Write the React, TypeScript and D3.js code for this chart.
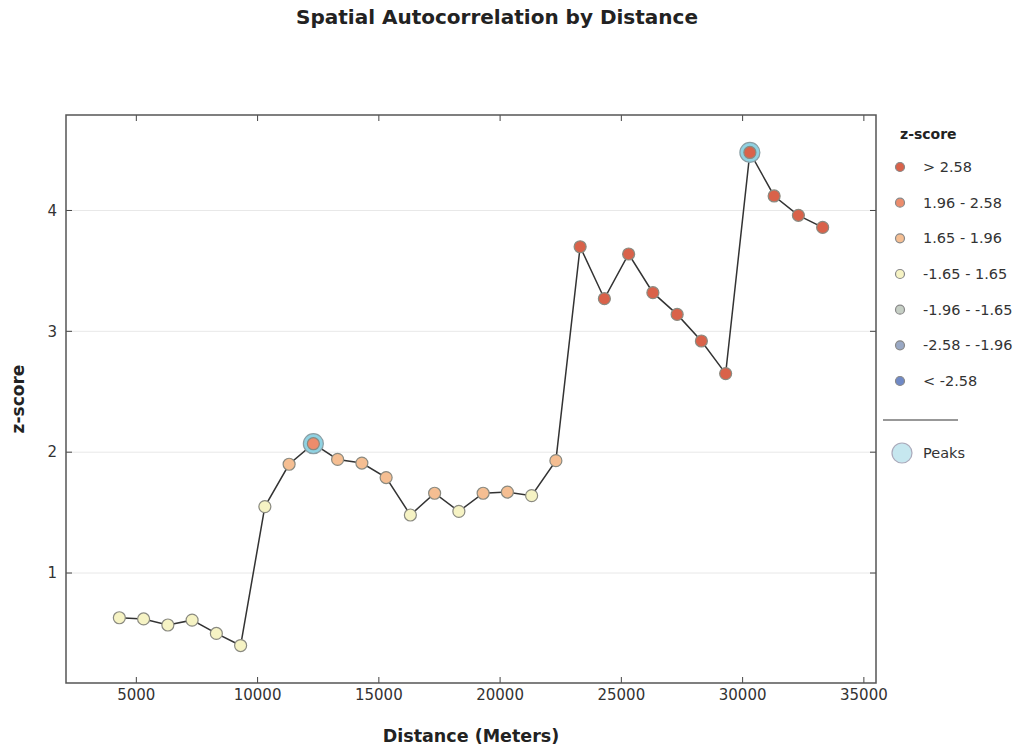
import React from "react";
import * as d3 from "d3";

// distance bands (meters) and their z-scores
const distances = [
  4300, 5300, 6300, 7300, 8300, 9300, 10300, 11300, 12300, 13300,
  14300, 15300, 16300, 17300, 18300, 19300, 20300, 21300, 22300, 23300,
  24300, 25300, 26300, 27300, 28300, 29300, 30300, 31300, 32300, 33300,
];
const zScores = [
  0.63, 0.62, 0.57, 0.61, 0.50, 0.40, 1.55, 1.90, 2.07, 1.94,
  1.91, 1.79, 1.48, 1.66, 1.51, 1.66, 1.67, 1.64, 1.93, 3.70,
  3.27, 3.64, 3.32, 3.14, 2.92, 2.65, 4.48, 4.12, 3.96, 3.86,
];
const peakDistances = [12300, 30300];

const xTicks = [5000, 10000, 15000, 20000, 25000, 30000, 35000];
const yTicks = [1, 2, 3, 4];

const breaks = [-2.58, -1.96, -1.65, 1.65, 1.96, 2.58];
const classColors = ["#6f89c6", "#99a8c4", "#c6cfc5", "#f6f3c4", "#f5be92", "#ec8c6c", "#d9624a"];
const legendLabels = ["> 2.58", "1.96 - 2.58", "1.65 - 1.96", "-1.65 - 1.65", "-1.96 - -1.65", "-2.58 - -1.96", "< -2.58"];

const W = 1020;
const H = 746;
const m = { top: 115, right: 144, bottom: 63, left: 66 };

export default function App() {
  const x = d3.scaleLinear().domain([2100, 35500]).range([m.left, W - m.right]);
  const y = d3.scaleLinear().domain([0.09, 4.79]).range([H - m.bottom, m.top]);
  const color = d3.scaleThreshold<number, string>().domain(breaks).range(classColors);

  const pts = distances.map((d, i) => ({ d, z: zScores[i] }));
  const line = d3.line<{ d: number; z: number }>().x(p => x(p.d)).y(p => y(p.z));

  const x0 = m.left, x1 = W - m.right, y0 = m.top, y1 = H - m.bottom;
  const font = "DejaVu Sans, sans-serif";
  const legendX = 900;
  const legendY = d3.scalePoint<number>().domain(d3.range(7)).range([167, 381]);

  return (
    <svg width={W} height={H} style={{ position: "absolute", left: 0, top: 0 }} fontFamily={font}>
      <rect width={W} height={H} fill="#fff" />
      <text x={497} y={24} textAnchor="middle" fontSize={20} fontWeight="bold" fill="#222">
        Spatial Autocorrelation by Distance
      </text>

      {/* grid */}
      {yTicks.map(t => (
        <line key={t} x1={x0} x2={x1} y1={y(t)} y2={y(t)} stroke="#e8e8e8" strokeWidth={1} />
      ))}

      {/* ticks, all inward */}
      {xTicks.map(t => (
        <g key={t}>
          <line x1={x(t)} x2={x(t)} y1={y1} y2={y1 - 6} stroke="#444" />
          <line x1={x(t)} x2={x(t)} y1={y0} y2={y0 + 6} stroke="#444" />
          <text x={x(t)} y={700} textAnchor="middle" fontSize={15} fill="#333">{t}</text>
        </g>
      ))}
      {yTicks.map(t => (
        <g key={t}>
          <line x1={x0} x2={x0 + 6} y1={y(t)} y2={y(t)} stroke="#444" />
          <line x1={x1} x2={x1 - 6} y1={y(t)} y2={y(t)} stroke="#444" />
          <text x={57} y={y(t)} dy="0.35em" textAnchor="end" fontSize={15} fill="#333">{t}</text>
        </g>
      ))}
      <rect x={x0} y={y0} width={x1 - x0} height={y1 - y0} fill="none" stroke="#555" strokeWidth={1.5} />

      <text x={(x0 + x1) / 2} y={742} textAnchor="middle" fontSize={17.5} fontWeight="bold" fill="#222">
        Distance (Meters)
      </text>
      <text transform={`translate(24,${(y0 + y1) / 2}) rotate(-90)`} textAnchor="middle" fontSize={17} fontWeight="bold" fill="#222">
        z-score
      </text>

      <path d={line(pts) ?? ""} fill="none" stroke="#333" strokeWidth={1.5} />

      {pts.filter(p => peakDistances.includes(p.d)).map(p => (
        <circle key={"pk" + p.d} cx={x(p.d)} cy={y(p.z)} r={10} fill="#8fd2e2" stroke="#8a9ea4" strokeWidth={1.2} />
      ))}
      {pts.map(p => (
        <circle key={p.d} cx={x(p.d)} cy={y(p.z)} r={6} fill={color(p.z)} stroke="#8a8a80" strokeWidth={1.2} />
      ))}

      {/* legend */}
      <text x={legendX} y={139} fontSize={14} fontWeight="bold" fill="#222">z-score</text>
      {legendLabels.map((lab, i) => (
        <g key={lab}>
          <circle cx={legendX} cy={legendY(i)} r={4.5} fill={classColors[6 - i]} stroke="#888" strokeWidth={1.2} />
          <text x={923} y={legendY(i)} dy="0.35em" fontSize={14.5} fill="#333">{lab}</text>
        </g>
      ))}
      <line x1={883} x2={958} y1={420} y2={420} stroke="#333" strokeWidth={1.2} />
      <circle cx={902} cy={453} r={10} fill="#c6e7ef" stroke="#aab" strokeWidth={1.2} />
      <text x={923} y={453} dy="0.35em" fontSize={14.5} fill="#333">Peaks</text>
    </svg>
  );
}
